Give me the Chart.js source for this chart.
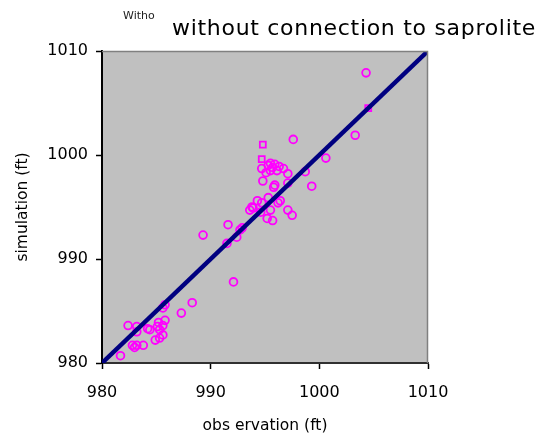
<!DOCTYPE html>
<html>
<head>
<meta charset="utf-8">
<script src="https://cdn.jsdelivr.net/npm/chart.js@4/dist/chart.umd.min.js"></script>
<style>
  html, body { margin: 0; padding: 0; background: #fff; }
  #c { display: block; }
</style>
</head>
<body>
<canvas id="c" width="539" height="437"></canvas>
<script>
// ---- data ----
const titleText = "without connection to saprolite";
const stubText = "Witho";
const xTitle = "obs ervation (ft)";
const yTitle = "simulation (ft)";
const tickValues = [980, 990, 1000, 1010];

// 1:1 line
const lineObs = [980, 1010];
const lineSim = [980, 1010];

// circle markers
const obsCircle = [1004.3, 1003.3, 1000.6, 999.3, 998.7, 997.6, 995.7, 995.9, 995.5, 996.1,
  995.3, 994.7, 997.1, 994.8, 995.9, 997.1, 995.3, 994.3, 993.9, 994.7,
  996.4, 997.1, 997.5, 995.5, 995.2, 995.7, 991.6, 992.7, 989.3, 993.8,
  995.8, 993.6, 994.6, 996.2, 992.9, 992.4, 991.5, 992.1, 988.3, 987.3,
  985.6, 985.8, 985.1, 985.3, 984.4, 985.3, 984.9, 982.4, 983.2, 983.2,
  982.8, 983.2, 983.8, 981.7, 985.8, 984.2, 985.6, 985.6, 983.0, 985.2,
  995.5, 995.1, 996.3, 996.7];
const simCircle = [1007.9, 1001.9, 999.7, 997.0, 998.4, 1001.5, 998.8, 999.1, 998.5, 998.5,
  999.0, 998.7, 998.2, 997.5, 997.1, 997.3, 995.9, 995.6, 994.9, 995.4,
  995.6, 994.7, 994.2, 994.7, 993.9, 993.7, 993.3, 992.8, 992.3, 995.0,
  996.9, 994.7, 994.5, 995.4, 993.0, 992.1, 991.5, 987.8, 985.8, 984.8,
  985.3, 984.1, 983.5, 983.2, 983.2, 982.4, 982.2, 983.6, 983.5, 983.0,
  981.7, 981.7, 981.7, 980.7, 985.6, 983.3, 983.6, 982.7, 981.5, 983.9,
  999.2, 998.3, 998.9, 998.7];

// square markers
const obsSquare = [1004.5, 994.8, 994.7];
const simSquare = [1004.5, 1001.0, 999.6];

const toPts = (xs, ys) => xs.map((x, i) => ({ x: x, y: ys[i] }));

const FONT = "'DejaVu Sans', sans-serif";

const decor = {
  id: 'decor',
  beforeDraw(chart) {
    const { ctx, chartArea: a } = chart;
    ctx.save();
    ctx.fillStyle = '#c0c0c0';
    ctx.fillRect(a.left, a.top, a.right - a.left, a.bottom - a.top);
    ctx.restore();
  },
  afterDraw(chart) {
    const { ctx, chartArea: a } = chart;
    ctx.save();
    ctx.strokeStyle = '#808080';
    ctx.lineWidth = 1.5;
    ctx.beginPath();
    ctx.moveTo(a.left, a.top + 0.5);
    ctx.lineTo(a.right - 0.5, a.top + 0.5);
    ctx.lineTo(a.right - 0.5, a.bottom);
    ctx.stroke();
    // title
    ctx.fillStyle = '#000';
    ctx.textBaseline = 'alphabetic';
    ctx.textAlign = 'left';
    ctx.font = '22px ' + FONT;
    try { ctx.letterSpacing = '0.7px'; } catch (e) {}
    ctx.fillText(titleText, 172, 35);
    try { ctx.letterSpacing = '0px'; } catch (e) {}
    ctx.fillStyle = '#222';
    ctx.font = '11px ' + FONT;
    ctx.fillText(stubText, 123, 19);
    ctx.restore();
  }
};

new Chart(document.getElementById('c'), {
  type: 'scatter',
  data: {
    datasets: [
      {
        type: 'line',
        data: toPts(lineObs, lineSim),
        borderColor: '#000080',
        borderWidth: 4.5,
        pointRadius: 0,
        fill: false
      },
      {
        data: toPts(obsSquare, simSquare),
        pointStyle: 'rect',
        pointRadius: 4.2,
        borderColor: '#ff00ff',
        backgroundColor: 'rgba(0,0,0,0)',
        borderWidth: 1.8
      },
      {
        data: toPts(obsCircle, simCircle),
        pointStyle: 'circle',
        pointRadius: 3.9,
        borderColor: '#ff00ff',
        backgroundColor: 'rgba(0,0,0,0)',
        borderWidth: 1.8
      }
    ]
  },
  options: {
    responsive: false,
    devicePixelRatio: 1,
    animation: false,
    layout: { padding: { left: 0, top: 51, right: 111, bottom: 0 } },
    plugins: { legend: { display: false }, tooltip: { enabled: false }, title: { display: false } },
    scales: {
      x: {
        type: 'linear',
        min: 980, max: 1010,
        afterFit(s) { s.height = 74; },
        afterBuildTicks(s) { s.ticks = tickValues.map(v => ({ value: v })); },
        ticks: { color: '#000', font: { family: FONT, size: 16 }, padding: 14, maxRotation: 0, callback: v => String(v) },
        grid: { display: true, drawOnChartArea: false, drawTicks: true, tickLength: 6, tickColor: '#000', tickWidth: 1.5 },
        border: { display: true, color: '#303030', width: 2 },
        title: { display: true, text: xTitle, color: '#000', font: { family: FONT, size: 15.5 }, padding: { top: 0, bottom: 2 } }
      },
      y: {
        type: 'linear',
        min: 980, max: 1010,
        afterFit(s) { s.width = 102; },
        afterBuildTicks(s) { s.ticks = tickValues.map(v => ({ value: v })); },
        ticks: { color: '#000', font: { family: FONT, size: 16 }, padding: 8, callback: v => String(v) },
        grid: { display: true, drawOnChartArea: false, drawTicks: true, tickLength: 6, tickColor: '#000', tickWidth: 1.5 },
        border: { display: true, color: '#000', width: 2 },
        title: { display: true, text: yTitle, color: '#000', font: { family: FONT, size: 15.5 }, padding: { top: 14, bottom: 0 } }
      }
    }
  },
  plugins: [decor]
});
</script>
</body>
</html>
